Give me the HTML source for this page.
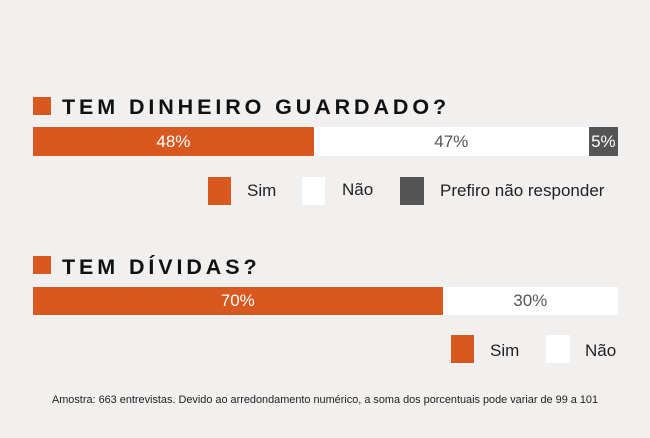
<!DOCTYPE html>
<html><head><meta charset="utf-8"><style>
body{margin:0;width:650px;height:438px;background:#f1f0ee;font-family:"Liberation Sans",sans-serif;position:relative;overflow:hidden}
.a{position:absolute}
.t{font-weight:bold;font-size:21.5px;letter-spacing:3.9px;color:#111}
.sq{background:#d9581f}
.lg{font-size:17px;color:#222}
.seg{position:absolute;top:0;height:100%;display:flex;align-items:center;justify-content:center;font-size:17px}
</style></head><body>
<div class="a sq" style="left:33px;top:97px;width:18px;height:18px"></div>
<div class="a t" style="left:62px;top:95px">TEM DINHEIRO GUARDADO?</div>
<div class="a" id="bar1" style="left:33px;top:127px;width:585px;height:29px"></div>
<div class="a sq" style="left:208px;top:177px;width:23px;height:28px"></div>
<div class="a lg" style="left:247px;top:181px">Sim</div>
<div class="a" style="left:302px;top:177px;width:23px;height:28px;background:#fff"></div>
<div class="a lg" style="left:342px;top:180px">Não</div>
<div class="a" style="left:400px;top:177px;width:24px;height:28px;background:#555"></div>
<div class="a lg" style="left:440px;top:181px">Prefiro não responder</div>

<div class="a sq" style="left:33px;top:256px;width:18px;height:18px"></div>
<div class="a t" style="left:62px;top:255px">TEM DÍVIDAS?</div>
<div class="a" id="bar2" style="left:33px;top:287px;width:585px;height:28px"></div>
<div class="a sq" style="left:451px;top:335px;width:23px;height:28px"></div>
<div class="a lg" style="left:490px;top:341px">Sim</div>
<div class="a" style="left:546px;top:335px;width:24px;height:28px;background:#fff"></div>
<div class="a lg" style="left:585px;top:341px">Não</div>

<div class="a" style="left:0;width:650px;text-align:center;top:394px;font-size:10.9px;color:#222">Amostra: 663 entrevistas. Devido ao arredondamento numérico, a soma dos porcentuais pode variar de 99 a 101</div>
<script>
const savingsLabels=["Sim","Não","Prefiro não responder"];
const savingsValues=[48,47,5];
const debtLabels=["Sim","Não"];
const debtValues=[70,30];
const colors=[["#d9581f","#fff"],["#fff","#555"],["#555","#fff"]];
function draw(id,vals,names){
  const el=document.getElementById(id);const W=el.clientWidth;
  const tot=vals.reduce((a,b)=>a+b,0);let x=0;
  vals.forEach((v,i)=>{
    const w=v/tot*W;const s=document.createElement('div');
    s.className='seg';
    
    
    s.style.left=x+'px';s.style.width=w+'px';
    s.style.background=colors[i][0];s.style.color=i==1?'#555':colors[i][1];
    s.textContent=v+'%';el.appendChild(s);x+=w;
  });
}
draw('bar1',savingsValues,savingsLabels);
draw('bar2',debtValues,debtLabels);
</script>
</body></html>
